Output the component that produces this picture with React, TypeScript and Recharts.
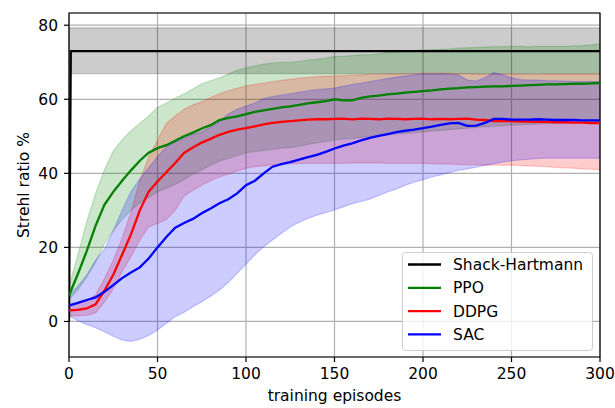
import React from 'react';
import { ComposedChart, Line, Area, XAxis, YAxis, CartesianGrid, ReferenceArea, Label } from 'recharts';

const EPISODES = [
  0, 5, 10, 15, 20, 25, 30, 35, 40, 45,
  50, 55, 60, 65, 70, 75, 80, 85, 90, 95,
  100, 105, 110, 115, 120, 125, 130, 135, 140, 145,
  150, 155, 160, 165, 170, 175, 180, 185, 190, 195,
  200, 205, 210, 215, 220, 225, 230, 235, 240, 245,
  250, 255, 260, 265, 270, 275, 280, 285, 290, 295,
  300,
];

const PPO_MEAN = [
  7, 12.8, 19, 25.8, 31.5, 35, 38, 40.8, 43.4, 45.6,
  46.8, 47.6, 48.8, 50, 51, 52.1, 53, 54.4, 55, 55.4,
  56, 56.6, 57, 57.4, 57.8, 58.1, 58.5, 58.9, 59.2, 59.5,
  60, 59.7, 59.7, 60.4, 60.8, 61, 61.3, 61.5, 61.8, 62,
  62.2, 62.4, 62.7, 62.9, 63, 63.2, 63.3, 63.4, 63.5, 63.5,
  63.6, 63.7, 63.8, 63.9, 64, 64, 64.1, 64.2, 64.2, 64.3,
  64.4,
];
const PPO_HI = [
  9.5, 18, 27, 34.5, 41, 46, 49, 51.5, 53.5, 55.5,
  57.8, 59, 60.3, 61.5, 62.8, 64.2, 65, 65.8, 66.8, 67.8,
  68.5, 69, 69.5, 69.8, 70, 70, 70.2, 70.6, 70.8, 71.1,
  71.6, 71.6, 71.8, 72, 72, 72.3, 72.6, 72.8, 73, 73.2,
  73.3, 73.4, 73.5, 73.6, 73.8, 73.9, 74, 74.1, 74.2, 74.2,
  74.3, 74.3, 74.2, 74.3, 74.3, 74.3, 74.3, 74.4, 74.5, 74.7,
  75,
];
const PPO_LO = [
  6, 8.5, 12, 16, 21, 24.5, 27.5, 30, 32, 33.5,
  35, 36, 37, 38.3, 39.8, 41, 42.2, 43.3, 44, 44.8,
  45.5, 45.9, 46.2, 46.5, 46.8, 47, 47.3, 47.8, 48.2, 48.6,
  49, 49.3, 49.4, 49.7, 50, 50.2, 50.4, 50.6, 50.8, 51,
  51.2, 51.4, 51.6, 51.8, 52, 52.2, 52.4, 52.6, 52.7, 52.9,
  53, 53.1, 53.2, 53.3, 53.4, 53.5, 53.6, 53.7, 53.8, 53.9,
  54,
];

const DDPG_MEAN = [
  3, 3.1, 3.5, 4.6, 8.3, 12.6, 18, 23.5, 30, 35,
  37.8, 40.3, 42.8, 45.5, 47, 48.3, 49.3, 50.4, 51.2, 51.8,
  52.2, 52.7, 53.2, 53.6, 53.9, 54.1, 54.3, 54.5, 54.6, 54.6,
  54.7, 54.8, 54.6, 54.8, 54.7, 54.6, 54.8, 54.7, 54.6, 54.7,
  54.8, 54.6, 54.7, 54.6, 54.7, 54.8, 54.5, 54.4, 54.1, 54.2,
  54.1, 54, 54, 53.9, 53.9, 53.8, 53.8, 53.7, 53.7, 53.6,
  53.6,
];
const DDPG_HI = [
  4.5, 4.8, 5.5, 7.2, 11.5, 16.5, 22.5, 29.5, 38, 44.5,
  49, 53.5, 55.5, 57.3, 58.5, 59.3, 60.5, 61.5, 62.3, 63,
  63.6, 64, 64.4, 64.8, 65.1, 65.4, 65.7, 65.9, 66.1, 66.2,
  66.3, 66.4, 66.5, 66.6, 66.7, 66.7, 66.8, 66.8, 66.9, 66.9,
  67, 67, 67, 67, 66.9, 66.9, 66.8, 66.8, 66.8, 66.8,
  66.8, 66.8, 66.7, 66.7, 66.8, 66.8, 66.8, 66.8, 66.8, 66.8,
  66.8,
];
const DDPG_LO = [
  1.5, 1.5, 1.6, 2.3, 5.2, 8.8, 13.5, 17.5, 22, 25.5,
  26.5, 27.5, 30, 33.8, 35.4, 36.8, 38, 39, 39.8, 40.6,
  41.4, 41.8, 42, 42.3, 42.5, 42.6, 42.7, 42.7, 42.7, 42.7,
  42.7, 42.7, 42.8, 42.8, 42.8, 42.8, 42.7, 42.7, 42.7, 42.7,
  42.7, 42.6, 42.5, 42.5, 42.4, 42.3, 42.3, 42.2, 42.2, 42.2,
  42.2, 42.1, 42, 41.9, 41.8, 41.6, 41.5, 41.4, 41.2, 41.1,
  41,
];

const SAC_MEAN = [
  4.3, 5, 5.8, 6.5, 8, 9.8, 11.7, 13.2, 14.6, 17,
  20, 22.8, 25.3, 26.6, 27.7, 29.2, 30.5, 31.9, 33, 34.6,
  36.8, 38, 40, 41.8, 42.5, 43, 43.7, 44.4, 45, 45.8,
  46.7, 47.5, 48.1, 48.9, 49.6, 50.1, 50.6, 51.1, 51.5, 51.8,
  52.2, 52.6, 53.1, 53.5, 53.6, 52.8, 52.9, 53.6, 54.7, 54.7,
  54.5, 54.5, 54.5, 54.6, 54.5, 54.4, 54.4, 54.4, 54.3, 54.3,
  54.3,
];
const SAC_HI = [
  7, 9.5, 12.5, 16.5, 19.5, 24.5, 30, 35, 38.5, 41.5,
  44.5, 47.2, 48.5, 49.5, 50.5, 51.2, 52.5, 54, 56, 57.3,
  58.2, 59, 60.2, 60.7, 61.1, 61.5, 61.9, 62.3, 62.6, 62.8,
  63, 63.5, 64, 64.4, 64.8, 65.2, 65.6, 66, 66.3, 66.6,
  66.8, 66.8, 66.8, 66.7, 66.6, 65.2, 64.9, 65.8, 67.2, 66.6,
  65.8, 65.3, 65.2, 65.2, 65, 65, 64.9, 64.8, 64.8, 64.8,
  64.8,
];
const SAC_LO = [
  1.5, 0.2, -0.8, -1.7, -2.8, -4, -5, -5.4, -4.8, -3.8,
  -2.3, -0.5, 1.3, 2.5, 4, 5.3, 6.8, 8.5, 10.5, 13,
  15.5, 18, 20.2, 22, 23.8, 25.5, 26.8, 27.8, 28.7, 29.4,
  30.1, 31, 31.8, 32.4, 33, 34, 35, 35.8, 36.8, 37.6,
  38.3, 39, 39.6, 40.2, 40.8, 41.2, 41.7, 42.2, 42.6, 43,
  43.4, 43.6, 43.8, 44, 44.1, 44.1, 44.1, 44.1, 44.1, 44.1,
  44.1,
];

const SH_EPISODES = [0, 1, 300];
const SH_MEAN = [0, 73, 73];
const SH_LO = [66.9, 66.9, 66.9];
const SH_HI = [79.3, 79.3, 79.3];

const X_TICKS = [0, 50, 100, 150, 200, 250, 300];
const Y_TICKS = [0, 20, 40, 60, 80];
const SERIES_NAMES = ['Shack-Hartmann', 'PPO', 'DDPG', 'SAC'];
const SERIES_COLORS = ['#000000', '#008000', '#ff0000', '#0000ff'];

const rows = EPISODES.map((ep, i) => ({
  ep,
  ppo: PPO_MEAN[i],
  ppoBand: [PPO_LO[i], PPO_HI[i]],
  ddpg: DDPG_MEAN[i],
  ddpgBand: [DDPG_LO[i], DDPG_HI[i]],
  sac: SAC_MEAN[i],
  sacBand: [SAC_LO[i], SAC_HI[i]],
}));

const shRows = SH_EPISODES.map((ep, i) => ({
  ep,
  sh: SH_MEAN[i],
  shBand: [SH_LO[i], SH_HI[i]],
}));

const FONT = "'DejaVu Sans', sans-serif";
const FS = 15.5;
const Y_MIN = -9.6;
const Y_MAX = 83.3;

export default function App() {
  const tickStyle = { fill: '#000', fontSize: FS, fontFamily: FONT };
  return (
    <div style={{ position: 'absolute', left: 0, top: 0, width: 615, height: 408, background: '#fff' }}>
      <ComposedChart width={615} height={408} data={rows} margin={{ top: 13, right: 15, bottom: 0, left: 0 }}>
        <CartesianGrid stroke="#b0b0b0" strokeWidth={1.2} />
        <XAxis
          dataKey="ep"
          type="number"
          domain={[0, 300]}
          ticks={X_TICKS}
          interval={0}
          height={51}
          tickSize={5}
          tickMargin={6}
          axisLine={false}
          tickLine={{ stroke: '#000', strokeWidth: 1.2 }}
          tick={tickStyle}
          allowDataOverflow
        >
          <Label value="training episodes" position="insideBottom" offset={7} style={{ fill: '#000', fontSize: FS, fontFamily: FONT }} />
        </XAxis>
        <YAxis
          type="number"
          domain={[Y_MIN, Y_MAX]}
          ticks={Y_TICKS}
          interval={0}
          width={69}
          tickSize={5}
          tickMargin={6}
          axisLine={false}
          tickLine={{ stroke: '#000', strokeWidth: 1.2 }}
          tick={tickStyle}
          allowDataOverflow
        >
          <Label value="Strehl ratio %" angle={-90} position="insideLeft" offset={23} style={{ fill: '#000', fontSize: FS, fontFamily: FONT, textAnchor: 'middle' }} />
        </YAxis>

        <Area data={shRows} dataKey="shBand" type="linear" fill="#000" fillOpacity={0.2} stroke="#000" strokeOpacity={0.2} strokeWidth={1.2} isAnimationActive={false} dot={false} activeDot={false} />
        <Area dataKey="ppoBand" type="linear" fill="#008000" fillOpacity={0.2} stroke="#008000" strokeOpacity={0.2} strokeWidth={1.2} isAnimationActive={false} dot={false} activeDot={false} />
        <Area dataKey="ddpgBand" type="linear" fill="#ff0000" fillOpacity={0.2} stroke="#ff0000" strokeOpacity={0.2} strokeWidth={1.2} isAnimationActive={false} dot={false} activeDot={false} />
        <Area dataKey="sacBand" type="linear" fill="#0000ff" fillOpacity={0.2} stroke="#0000ff" strokeOpacity={0.2} strokeWidth={1.2} isAnimationActive={false} dot={false} activeDot={false} />

        <Line data={shRows} dataKey="sh" type="linear" stroke="#000" strokeWidth={2.3} dot={false} activeDot={false} isAnimationActive={false} />
        <Line dataKey="ppo" type="linear" stroke="#008000" strokeWidth={2.3} dot={false} activeDot={false} isAnimationActive={false} />
        <Line dataKey="ddpg" type="linear" stroke="#ff0000" strokeWidth={2.3} dot={false} activeDot={false} isAnimationActive={false} />
        <Line dataKey="sac" type="linear" stroke="#0000ff" strokeWidth={2.3} dot={false} activeDot={false} isAnimationActive={false} />

        <ReferenceArea x1={0} x2={300} y1={Y_MIN} y2={Y_MAX} fill="none" fillOpacity={0} stroke="#000" strokeWidth={1.2} ifOverflow="visible" />
      </ComposedChart>
      <svg style={{ position: 'absolute', left: 402, top: 251.5 }} width={191} height={99}>
        <rect x={0.5} y={0.5} width={190} height={98} rx={3} ry={3} fill="#fff" fillOpacity={0.8} stroke="#cccccc" strokeWidth={1} />
        {SERIES_NAMES.map((name, i) => {
          const cy = 12.5 + i * 23.3;
          return (
            <g key={name}>
              <line x1={6} x2={39} y1={cy} y2={cy} stroke={SERIES_COLORS[i]} strokeWidth={2.3} />
              <text x={51} y={cy + 5.6} fontSize={FS} fontFamily={FONT} fill="#000">{name}</text>
            </g>
          );
        })}
      </svg>
    </div>
  );
}
